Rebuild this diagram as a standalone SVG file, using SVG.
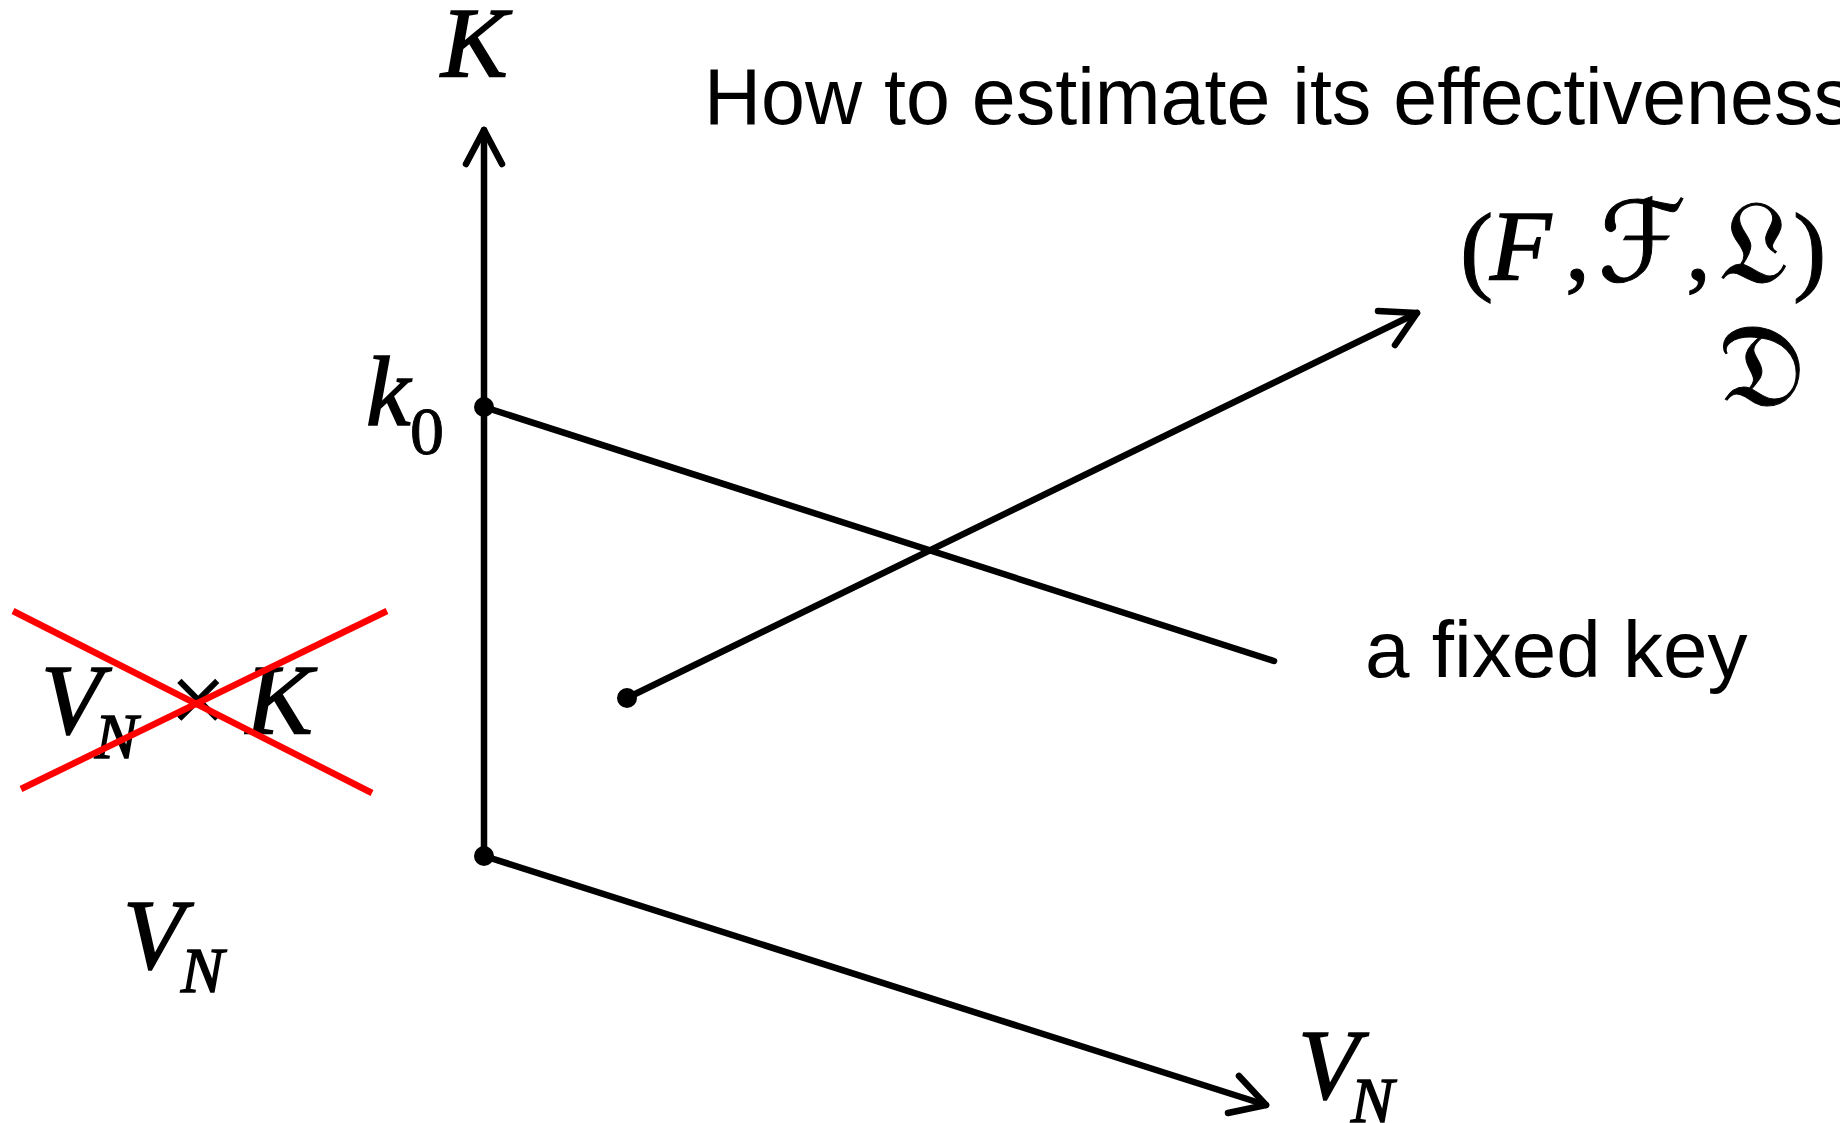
<svg xmlns="http://www.w3.org/2000/svg" width="1840" height="1123" viewBox="0 0 1840 1123">
<style>
.ln{stroke:#000;stroke-width:6.5;fill:none;stroke-linecap:round;stroke-linejoin:round}
.red{stroke:#f00;stroke-width:6.5;fill:none}
.m{font-family:"Liberation Serif","Times New Roman",serif;font-style:italic;fill:#000;stroke:#000;stroke-width:1.6}
.r{font-family:"Liberation Serif","Times New Roman",serif;fill:#000;stroke:#000;stroke-width:1}
.s{font-family:"Liberation Sans",Arial,sans-serif;fill:#000}
.sym{font-family:"DejaVu Serif","DejaVu Sans","Noto Sans",serif;fill:#000;stroke:#000;stroke-width:1}
</style>
<rect width="1840" height="1123" fill="#fff"/>
<g id="connectors">
<line class="ln" x1="484" y1="856" x2="484" y2="130"/>
<polyline class="ln" points="466,164 484,130 502,164"/>
<line class="ln" x1="484" y1="407" x2="1274" y2="661"/>
<line class="ln" x1="484" y1="856" x2="1266" y2="1105"/>
<polyline class="ln" points="1239,1076 1266,1105 1228,1113"/>
<line class="ln" x1="627" y1="698" x2="1417" y2="313"/>
<polyline class="ln" points="1378,311 1417,313 1395,345"/>
</g>
<g id="dot-k0"><circle cx="484" cy="407" r="10"/></g>
<g id="dot-origin"><circle cx="484" cy="856" r="10"/></g>
<g id="dot-start"><circle cx="627" cy="698" r="10"/></g>
<g id="label-K"><text class="m" x="441" y="76" font-size="100">K</text></g>
<g id="label-k0"><text class="m" x="366" y="425" font-size="100">k</text><text class="r" x="410" y="454" font-size="68">0</text></g>
<g id="title"><text class="s" x="704" y="124" font-size="79">How to estimate its effectiveness</text></g>
<g id="label-FFL">
<text class="r" x="1460" y="282" font-size="100">(</text>
<text class="m" x="1490" y="279" font-size="100">F</text>
<text class="r" x="1565" y="279" font-size="100">,</text>
<text class="sym" x="1598" y="281" font-size="112">ℱ</text>
<text class="r" x="1686" y="279" font-size="100">,</text>
<text class="sym" x="1719" y="283" font-size="118">𝔏</text>
<text class="r" x="1793" y="282" font-size="100">)</text>
</g>
<g id="label-D"><text class="sym" x="1718" y="406" font-size="118">𝔇</text></g>
<g id="label-fixed-key"><text class="s" x="1365" y="677" font-size="80">a fixed key</text></g>
<g id="crossed-product">
<text class="m" x="41" y="733" font-size="100">V</text>
<text class="m" x="95" y="758" font-size="64">N</text>
<text class="r" x="170" y="733" font-size="100">×</text>
<text class="m" x="246" y="733" font-size="100">K</text>
<line class="red" x1="13" y1="611" x2="372" y2="793"/>
<line class="red" x1="21" y1="789" x2="387" y2="611"/>
</g>
<g id="label-VN-left"><text class="m" x="123" y="968" font-size="100">V</text><text class="m" x="181" y="992" font-size="64">N</text></g>
<g id="label-VN-axis"><text class="m" x="1298" y="1098" font-size="100">V</text><text class="m" x="1351" y="1122" font-size="64">N</text></g>
</svg>
